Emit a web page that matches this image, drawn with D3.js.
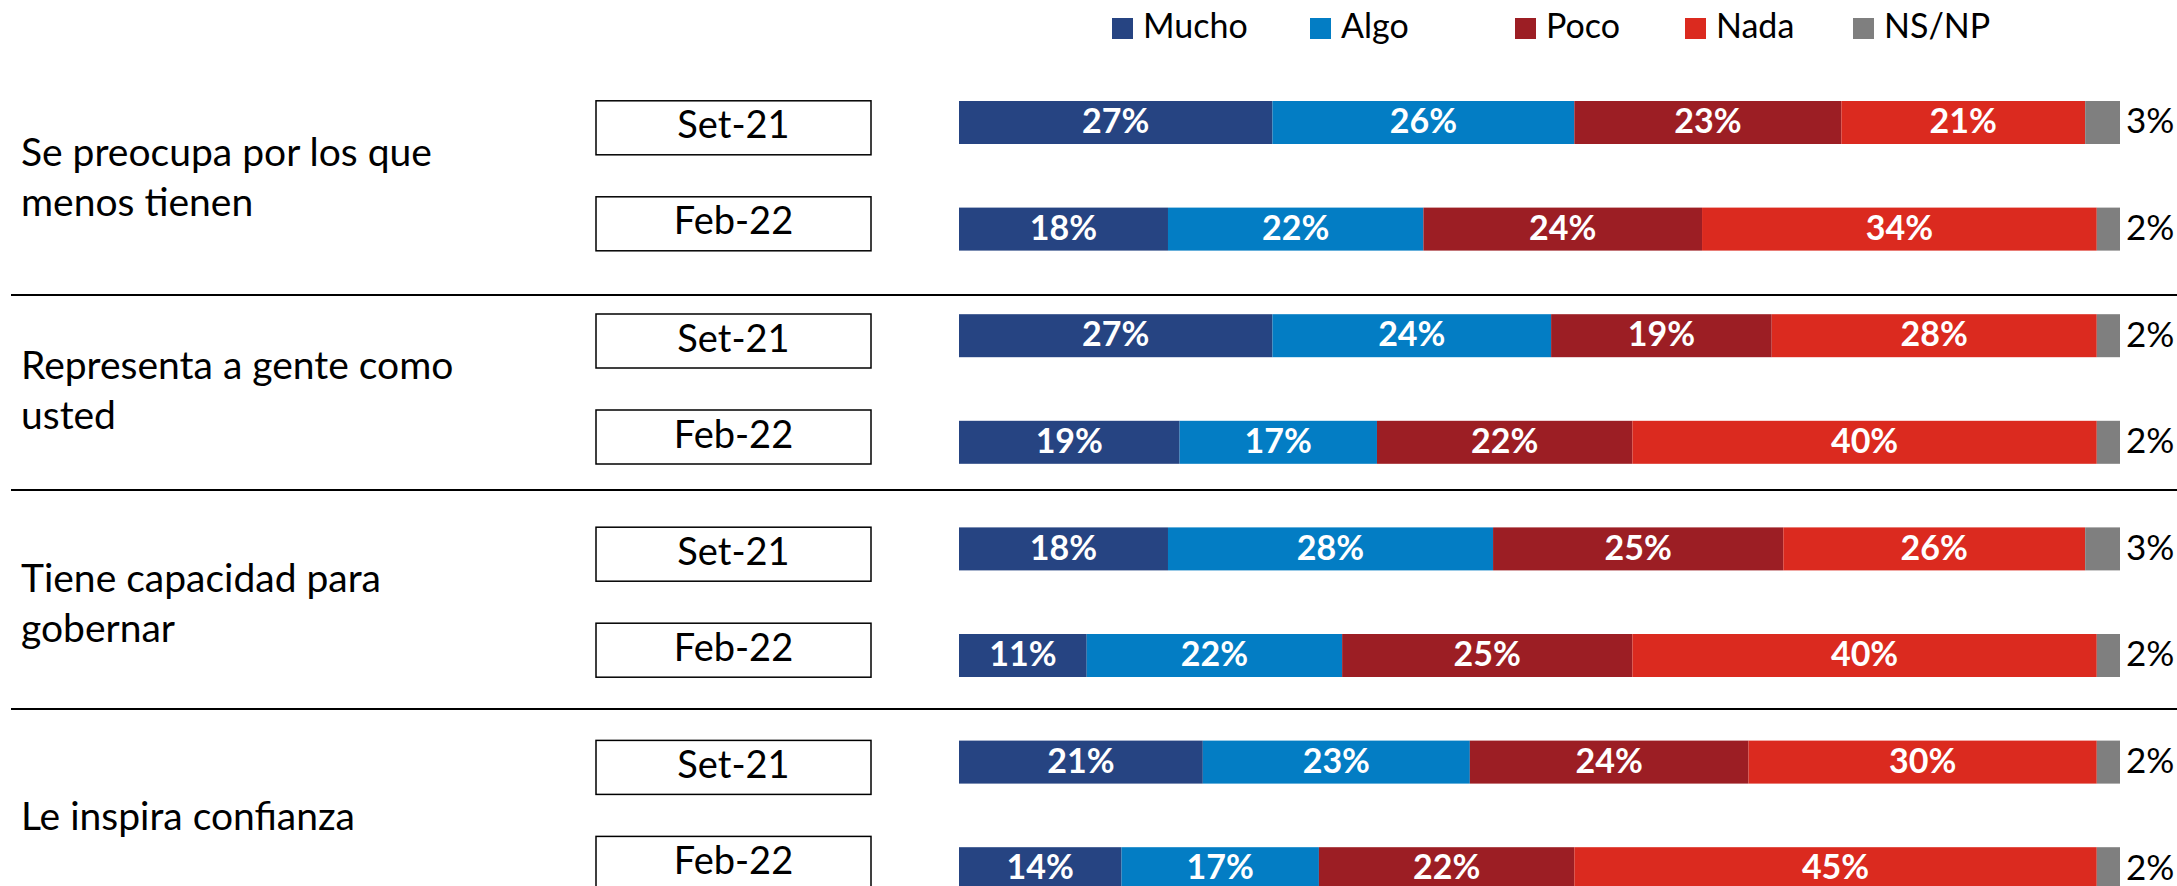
<!DOCTYPE html>
<html>
<head>
<meta charset="utf-8">
<script src="https://cdn.jsdelivr.net/npm/d3@7"></script>
<style>
  body { margin: 0; background: #fff; }
  svg { display: block; font-family: Lato, "Open Sans", sans-serif; }
</style>
</head>
<body>
<div id="chart"></div>
<script>
// data
const groups = [
  ["Se preocupa por los que", "menos tienen"],
  ["Representa a gente como", "usted"],
  ["Tiene capacidad para", "gobernar"],
  ["Le inspira confianza"]
];
const periods = ["Set-21", "Feb-22"];
const series = ["Mucho", "Algo", "Poco", "Nada", "NS/NP"];
const colors = ["#264482", "#037dc4", "#9c1e24", "#db2a1f", "#7f7f7f"];

// one value per bar, order: group1 Set, group1 Feb, group2 Set, ...
const mucho = [27, 18, 27, 19, 18, 11, 21, 14];
const algo  = [26, 22, 24, 17, 28, 22, 23, 17];
const poco  = [23, 24, 19, 22, 25, 25, 24, 22];
const nada  = [21, 34, 28, 40, 26, 40, 30, 45];
const nsnp  = [3, 2, 2, 2, 3, 2, 2, 2];

const width = 2177, height = 886;

const rows = [];
groups.forEach((g, gi) => {
  periods.forEach((p, pi) => {
    const i = gi * 2 + pi;
    rows.push({
      id: gi + "-" + p, group: gi, period: p,
      "Mucho": mucho[i], "Algo": algo[i], "Poco": poco[i], "Nada": nada[i], "NS/NP": nsnp[i]
    });
  });
});

const svg = d3.select("#chart").append("svg")
  .attr("width", width)
  .attr("height", height);

const x = d3.scaleLinear().domain([0, 100]).range([959, 2120]);

const y = d3.scaleBand()
  .domain(rows.map(d => d.id))
  .range([101, 101 + 7 * 106.6 + 43])
  .paddingInner(1 - 43 / 106.6)
  .paddingOuter(0);

const color = d3.scaleOrdinal().domain(series).range(colors);

const stacked = d3.stack().keys(series)(rows);

// separators
const sepY = [295, 490, 709];
svg.selectAll("line.sep")
  .data(sepY)
  .join("line")
  .attr("class", "sep")
  .attr("x1", 11).attr("x2", width)
  .attr("y1", d => d).attr("y2", d => d)
  .attr("stroke", "#000")
  .attr("stroke-width", 2);

// bars
const layer = svg.append("g").selectAll("g")
  .data(stacked)
  .join("g")
  .attr("fill", d => color(d.key));

layer.selectAll("rect")
  .data(d => d.map(v => Object.assign(v, {key: d.key})))
  .join("rect")
  .attr("x", d => x(d[0]))
  .attr("y", d => y(d.data.id))
  .attr("width", d => x(d[1]) - x(d[0]))
  .attr("height", y.bandwidth());

// value labels inside
stacked.forEach(s => {
  if (s.key === "NS/NP") return;
  svg.append("g").selectAll("text")
    .data(s)
    .join("text")
    .attr("x", d => (x(d[0]) + x(d[1])) / 2)
    .attr("y", d => y(d.data.id) + y.bandwidth() / 2 + 2)
    .attr("text-anchor", "middle")
    .attr("dominant-baseline", "middle")
    .attr("fill", "#fff")
    .attr("font-weight", "bold")
    .attr("font-size", 34)
    .text(d => d.data[s.key] + "%");
});

// NS/NP labels outside
svg.append("g").selectAll("text")
  .data(rows)
  .join("text")
  .attr("x", x(100) + 6)
  .attr("y", d => y(d.id) + y.bandwidth() / 2 + 2)
  .attr("dominant-baseline", "middle")
  .attr("fill", "#000")
  .attr("font-size", 35)
  .text(d => d["NS/NP"] + "%");

// group helpers
const groupCenter = gi => (y(gi + "-" + periods[0]) + y(gi + "-" + periods[1]) + y.bandwidth()) / 2;

// period boxes
const boxW = 275, boxH = 54;
rows.forEach(d => {
  const cy = groupCenter(d.group) + (d.period === periods[0] ? -48 : 48);
  const g = svg.append("g");
  g.append("rect")
    .attr("x", 596).attr("y", cy - boxH / 2)
    .attr("width", boxW).attr("height", boxH)
    .attr("fill", "#fff")
    .attr("stroke", "#000")
    .attr("stroke-width", 1.5);
  g.append("text")
    .attr("x", 596 + boxW / 2).attr("y", cy + 1)
    .attr("text-anchor", "middle")
    .attr("dominant-baseline", "middle")
    .attr("font-size", 38)
    .text(d.period);
});

// group labels
groups.forEach((lines, gi) => {
  const cy = groupCenter(gi) + 5;
  const lh = 50;
  const t = svg.append("text")
    .attr("x", 21)
    .attr("font-size", 39)
    .attr("fill", "#000");
  lines.forEach((l, li) => {
    t.append("tspan")
      .attr("x", 21)
      .attr("y", cy + (li - (lines.length - 1) / 2) * lh)
      .attr("dominant-baseline", "middle")
      .text(l);
  });
});

// legend
const legendX = [1112, 1310, 1515, 1685, 1853];
const legend = svg.append("g").selectAll("g")
  .data(series)
  .join("g")
  .attr("transform", (d, i) => `translate(${legendX[i]},18)`);
legend.append("rect")
  .attr("width", 21).attr("height", 21)
  .attr("fill", d => color(d));
legend.append("text")
  .attr("x", 31).attr("y", 11)
  .attr("dominant-baseline", "middle")
  .attr("font-size", 34)
  .text(d => d);
</script>
</body>
</html>
